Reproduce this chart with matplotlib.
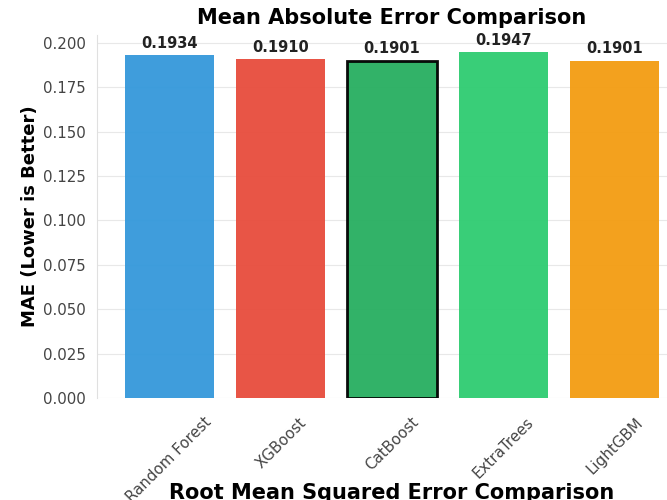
import matplotlib.pyplot as plt

models = ['Random Forest', 'XGBoost', 'CatBoost', 'ExtraTrees', 'LightGBM']
mae = [0.1934, 0.1910, 0.1901, 0.1947, 0.1901]
colors = ['#3498db', '#e74c3c', '#27ae60', '#2ecc71', '#f39c12']
best = 'CatBoost'

fig = plt.figure(figsize=(6.67, 5.0), dpi=100)
ax = fig.add_axes([97 / 667, 102 / 500, 590 / 667, 363 / 500])

x = range(len(models))
bars = ax.bar(x, mae, width=0.8, color=colors, alpha=0.95, zorder=2)
for b, m in zip(bars, models):
    if m == best:
        b.set_edgecolor('black')
        b.set_linewidth(2)

# value labels on top of each bar
for b, v in zip(bars, mae):
    ax.annotate(f'{v:.4f}', (b.get_x() + b.get_width() / 2, v),
                xytext=(0, 3), textcoords='offset points',
                ha='center', va='bottom', fontsize=10.5, fontweight='bold', color='#222222')

ax.set_xlim(-0.65, 4.65)
ax.set_ylim(0, 0.2045)
ax.set_yticks([0.0, 0.025, 0.05, 0.075, 0.1, 0.125, 0.15, 0.175, 0.2])
ax.set_xticks(list(x))
ax.set_xticklabels(models, rotation=45, ha='center')
ax.tick_params(axis='both', labelsize=10.8, colors='#444444', length=0)
ax.tick_params(axis='x', pad=12)
ax.tick_params(axis='y', pad=8)
ax.set_ylabel('MAE (Lower is Better)', fontsize=13, fontweight='bold', labelpad=3)
ax.set_title('Mean Absolute Error Comparison', fontsize=15, fontweight='bold', pad=8)

ax.grid(axis='y', color='#e8e8e8', linewidth=0.8, zorder=0)
for side in ['top', 'right', 'bottom']:
    ax.spines[side].set_visible(False)
ax.spines['left'].set_color('#e0e0e0')

# title of the next panel, cut off at the bottom of the crop
fig.text(392 / 667, 17 / 500, 'Root Mean Squared Error Comparison',
         ha='center', va='top', fontsize=15, fontweight='bold')

fig.savefig('out.png', dpi=100)
